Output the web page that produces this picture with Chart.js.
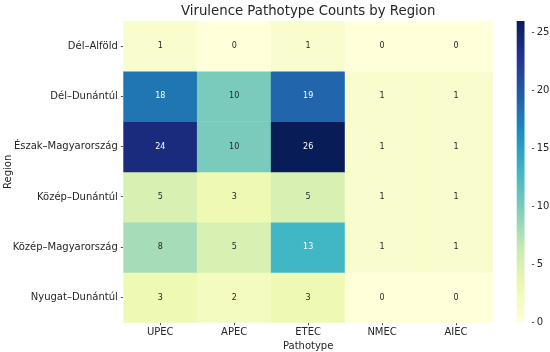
<!DOCTYPE html>
<html>
<head>
<meta charset="utf-8">
<script src="https://cdn.jsdelivr.net/npm/chart.js@4/dist/chart.umd.min.js"></script>
<style>
  html, body { margin: 0; padding: 0; background: #fff; }
  #wrap { position: relative; width: 550px; height: 352px; }
  #main { position: absolute; left: 0; top: 0; }
  #cbar { position: absolute; left: 510px; top: 0; }
</style>
</head>
<body>
<div id="wrap">
  <canvas id="main" width="550" height="352"></canvas>
  <canvas id="cbar" width="40" height="352"></canvas>
</div>
<script>
const regions = ["Dél–Alföld", "Dél–Dunántúl", "Észak–Magyarország", "Közép–Dunántúl", "Közép–Magyarország", "Nyugat–Dunántúl"];
const pathotypes = ["UPEC", "APEC", "ETEC", "NMEC", "AIEC"];
const delAlfold = [1, 0, 1, 0, 0];
const delDunantul = [18, 10, 19, 1, 1];
const eszakMagyarorszag = [24, 10, 26, 1, 1];
const kozepDunantul = [5, 3, 5, 1, 1];
const kozepMagyarorszag = [8, 5, 13, 1, 1];
const nyugatDunantul = [3, 2, 3, 0, 0];
const counts = [delAlfold, delDunantul, eszakMagyarorszag, kozepDunantul, kozepMagyarorszag, nyugatDunantul];
const colorbarTicks = [0, 5, 10, 15, 20, 25];
const vmin = 0, vmax = 26;

const YLGNBU = ["#ffffd9", "#edf8b1", "#c7e9b4", "#7fcdbb", "#41b6c4", "#1d91c0", "#225ea8", "#253494", "#081d58"];
function hexToRgb(h) { return [parseInt(h.slice(1,3),16), parseInt(h.slice(3,5),16), parseInt(h.slice(5,7),16)]; }
const STOPS = YLGNBU.map(hexToRgb);
function cmap(v) {
  let t = (v - vmin) / (vmax - vmin);
  t = Math.max(0, Math.min(1, t));
  const p = t * (STOPS.length - 1);
  const i = Math.min(Math.floor(p), STOPS.length - 2);
  const f = p - i;
  const a = STOPS[i], b = STOPS[i + 1];
  return [0,1,2].map(k => a[k] + (b[k] - a[k]) * f);
}
function rgbStr(c) { return `rgb(${Math.round(c[0])},${Math.round(c[1])},${Math.round(c[2])})`; }
function lum(c) {
  const s = c.map(x => { x /= 255; return x <= 0.03928 ? x / 12.92 : Math.pow((x + 0.055) / 1.055, 2.4); });
  return 0.2126 * s[0] + 0.7152 * s[1] + 0.0722 * s[2];
}

const TXT = "#262626";
const FONT = "'DejaVu Sans', sans-serif";

const datasets = regions.map((r, ri) => ({
  label: r,
  data: pathotypes.map(() => [ri, ri + 1]),
  values: counts[ri],
  backgroundColor: counts[ri].map(v => rgbStr(cmap(v))),
  borderWidth: 0,
  categoryPercentage: 1.0,
  barPercentage: 1.0,
  grouped: false
}));

const annot = {
  id: 'annot',
  afterDatasetsDraw(chart) {
    const ctx = chart.ctx;
    ctx.save();
    ctx.font = "8px " + FONT;
    ctx.textAlign = "center";
    ctx.textBaseline = "middle";
    chart.data.datasets.forEach((ds, di) => {
      const meta = chart.getDatasetMeta(di);
      meta.data.forEach((el, i) => {
        const v = ds.values[i];
        const c = cmap(v);
        ctx.fillStyle = lum(c) > 0.408 ? TXT : "#ffffff";
        const p = el.getCenterPoint();
        ctx.fillText(String(v), p.x, p.y);
      });
    });
    ctx.restore();
  }
};

new Chart(document.getElementById('main'), {
  type: 'bar',
  data: { labels: pathotypes, datasets },
  options: {
    responsive: false,
    animation: false,
    layout: { padding: { left: 0, right: 57, top: 0, bottom: 0 } },
    plugins: {
      legend: { display: false },
      tooltip: { enabled: false },
      title: {
        display: true,
        fullSize: false,
        text: "Virulence Pathotype Counts by Region",
        color: TXT,
        font: { family: FONT, size: 13.3, weight: 'normal' },
        padding: { top: 4, bottom: 1.0 }
      }
    },
    scales: {
      x: {
        offset: true,
        grid: { display: true, offset: false, drawOnChartArea: false, drawTicks: true, tickLength: 2.5, tickWidth: 0.8, color: TXT },
        border: { display: false },
        ticks: { color: TXT, font: { family: FONT, size: 10 }, padding: 1.5, maxRotation: 0 },
        title: { display: true, text: "Pathotype", color: TXT, font: { family: FONT, size: 10 }, padding: { top: -2, bottom: 0 } },
        afterFit(s) { s.height = 29.3; }
      },
      y: {
        type: 'linear',
        min: 0, max: 6,
        reverse: true,
        grid: { display: true, drawOnChartArea: false, drawTicks: true, tickLength: 2.5, tickWidth: 0.8, color: TXT },
        border: { display: false },
        afterBuildTicks(s) { s.ticks = regions.map((_, i) => ({ value: i + 0.5 })); },
        ticks: {
          color: TXT, font: { family: FONT, size: 10 }, padding: 3, autoSkip: false,
          callback: (v) => regions[Math.round(v - 0.5)]
        },
        title: { display: true, text: "Region", color: TXT, font: { family: FONT, size: 10 }, padding: { top: 2, bottom: 0 } },
        afterFit(s) { s.width = 123.3; }
      }
    }
  },
  plugins: [annot]
});

new Chart(document.getElementById('cbar'), {
  type: 'bar',
  data: {
    labels: ["cb"],
    datasets: [{
      data: [[vmin, vmax]],
      borderWidth: 0,
      categoryPercentage: 1.0,
      barPercentage: 1.0,
      backgroundColor(context) {
        const chart = context.chart;
        const area = chart.chartArea;
        if (!area) return null;
        const ys = chart.scales.y;
        const g = chart.ctx.createLinearGradient(0, ys.getPixelForValue(vmin), 0, ys.getPixelForValue(vmax));
        YLGNBU.forEach((c, i) => g.addColorStop(i / (YLGNBU.length - 1), c));
        return g;
      }
    }]
  },
  options: {
    responsive: false,
    animation: false,
    layout: { padding: { left: 6.7, right: 0, top: 21, bottom: 29.3 } },
    plugins: { legend: { display: false }, tooltip: { enabled: false }, title: { display: false } },
    scales: {
      x: { display: false, offset: false },
      y: {
        type: 'linear', position: 'right', min: vmin, max: vmax,
        afterBuildTicks(s) { s.ticks = colorbarTicks.map(v => ({ value: v })); },
        grid: { display: true, drawOnChartArea: false, drawTicks: true, tickLength: 2.5, tickWidth: 0.8, color: TXT },
        border: { display: false },
        ticks: { color: TXT, font: { family: FONT, size: 10 }, padding: 2.5 },
        afterFit(s) { s.width = 18.3; }
      }
    }
  }
});
</script>
</body>
</html>
